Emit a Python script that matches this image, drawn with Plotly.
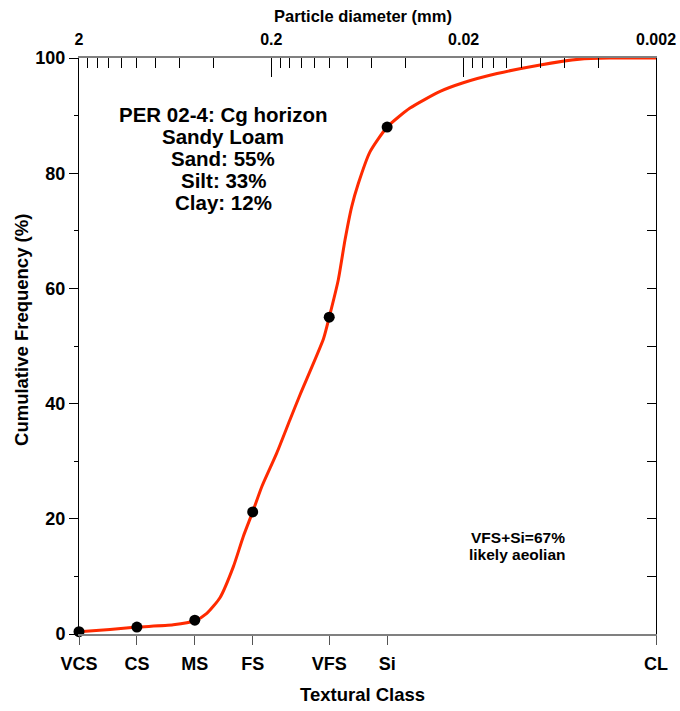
import plotly.graph_objects as go

# Measured points (textural class boundaries)
diam_mm = [2, 1, 0.5, 0.25, 0.1, 0.05, 0.002]
class_labels = ["VCS", "CS", "MS", "FS", "VFS", "Si", "CL"]
cum_freq = [0.4, 1.2, 2.4, 21.2, 55, 88, 100]

# Smoothed cumulative curve
curve_mm = [2, 1.38, 1.0, 0.647, 0.5, 0.433, 0.37, 0.315, 0.28, 0.25, 0.224,
            0.1875, 0.16, 0.142, 0.107, 0.1, 0.0897, 0.0828, 0.0764, 0.0706,
            0.0614, 0.05, 0.038, 0.0265, 0.0201, 0.0134, 0.008, 0.005, 0.0035, 0.002]
curve_pct = [0.4, 0.8, 1.2, 1.6, 2.3, 3.6, 6.3, 11.7, 16.9, 21.2, 25.6,
             31.4, 37.2, 41.5, 51.3, 55, 61.5, 68.4, 74.2, 78.2,
             83.7, 88, 91.3, 94.2, 95.7, 97.3, 98.8, 99.8, 100, 100]

top_tick_vals = [2, 0.2, 0.02, 0.002]
top_tick_text = ["2", "0.2", "0.02", "0.002"]

info_lines = ["PER 02-4: Cg horizon", "Sandy Loam", "Sand: 55%", "Silt: 33%", "Clay: 12%"]
note_lines = ["VFS+Si=67%", "likely aeolian"]

FONT = "Liberation Sans, Arial, sans-serif"
xr = [0.30103, -2.69897]

fig = go.Figure()
fig.add_trace(go.Scatter(x=curve_mm, y=curve_pct, mode="lines",
                         line=dict(color="#ff2a00", width=3, shape="spline", smoothing=0.6),
                         xaxis="x", yaxis="y", hoverinfo="skip", showlegend=False))
fig.add_trace(go.Scatter(x=diam_mm, y=cum_freq, mode="markers",
                         marker=dict(color="black", size=11),
                         cliponaxis=False, xaxis="x2", yaxis="y2", showlegend=False))

minor_top = [1.8, 1.6, 1.4, 1.2, 1.0, 0.8, 0.6, 0.4,
             0.18, 0.16, 0.14, 0.12, 0.1, 0.08, 0.06, 0.04,
             0.018, 0.016, 0.014, 0.012, 0.01, 0.008, 0.006, 0.004]

annotations = []
for i, t in enumerate(info_lines):
    annotations.append(dict(text=t, xref="paper", yref="paper", x=0.2504,
                            y=0.9025 - i * 0.0385, xanchor="center", yanchor="middle",
                            showarrow=False, font=dict(size=20.5, weight="bold")))
for i, t in enumerate(note_lines):
    annotations.append(dict(text=t, xref="paper", yref="paper", x=0.760,
                            y=0.1684 - i * 0.0300, xanchor="center", yanchor="middle",
                            showarrow=False, font=dict(size=15.5, weight="bold")))
# axis titles
annotations.append(dict(text="Cumulative Frequency (%)", xref="paper", yref="paper",
                        x=-0.0988, y=0.5278, textangle=-90, xanchor="center", yanchor="middle",
                        showarrow=False, font=dict(size=18.5, weight="bold")))
annotations.append(dict(text="Textural Class", xref="paper", yref="paper",
                        x=0.492, y=-0.1042, xanchor="center", yanchor="middle",
                        showarrow=False, font=dict(size=18.5, weight="bold")))
annotations.append(dict(text="Particle diameter (mm)", xref="paper", yref="paper",
                        x=0.492, y=1.0729, xanchor="center", yanchor="middle",
                        showarrow=False, font=dict(size=16.5, weight="bold")))

fig.update_layout(
    width=680, height=711,
    margin=dict(l=79, r=24, t=58, b=77),
    paper_bgcolor="white", plot_bgcolor="white",
    font=dict(family=FONT, color="black"),
    hovermode=False,
    xaxis=dict(type="log", range=xr, tickmode="array", tickvals=diam_mm,
               ticktext=class_labels, ticks="outside", ticklen=9, tickcolor="#555",
               showline=True, linecolor="#808080", linewidth=1.5, showgrid=False,
               zeroline=False, tickfont=dict(size=18, weight="bold"), automargin=False,
               ticklabelstandoff=4),
    xaxis2=dict(type="log", range=xr, overlaying="x", side="top", tickmode="array",
                tickvals=top_tick_vals, ticktext=top_tick_text, ticks="inside",
                ticklen=19, tickcolor="black", showline=True, linecolor="#808080",
                linewidth=1.5, showgrid=False, zeroline=False, automargin=False,
                minor=dict(tickmode="array", tickvals=minor_top, ticks="inside",
                           ticklen=10, tickcolor="black", showgrid=False),
                tickfont=dict(size=16, weight="bold"), ticklabelstandoff=5),
    yaxis=dict(range=[0, 100], tickmode="linear", tick0=0, dtick=20, ticks="outside",
               ticklen=9, tickcolor="black", showline=True, linecolor="black",
               linewidth=1, showgrid=False, zeroline=False, automargin=False,
               minor=dict(dtick=10, ticks="outside", ticklen=4, tickcolor="black", showgrid=False),
               tickfont=dict(size=18, weight="bold")),
    yaxis2=dict(range=[0, 100], overlaying="y", side="right", tickmode="linear",
                tick0=0, dtick=10, ticks="inside", ticklen=9, tickcolor="black",
                showline=True, linecolor="black", linewidth=1, showgrid=False,
                zeroline=False, showticklabels=False, automargin=False),
    annotations=annotations,
)

# remove the default page margin so the figure sits at the window's top-left
fig.write_html(
    "out.html",
    config={"displayModeBar": False},
    post_script="document.documentElement.style.overflow='hidden';"
                "document.body.style.margin='0';document.body.style.overflow='hidden';",
)
